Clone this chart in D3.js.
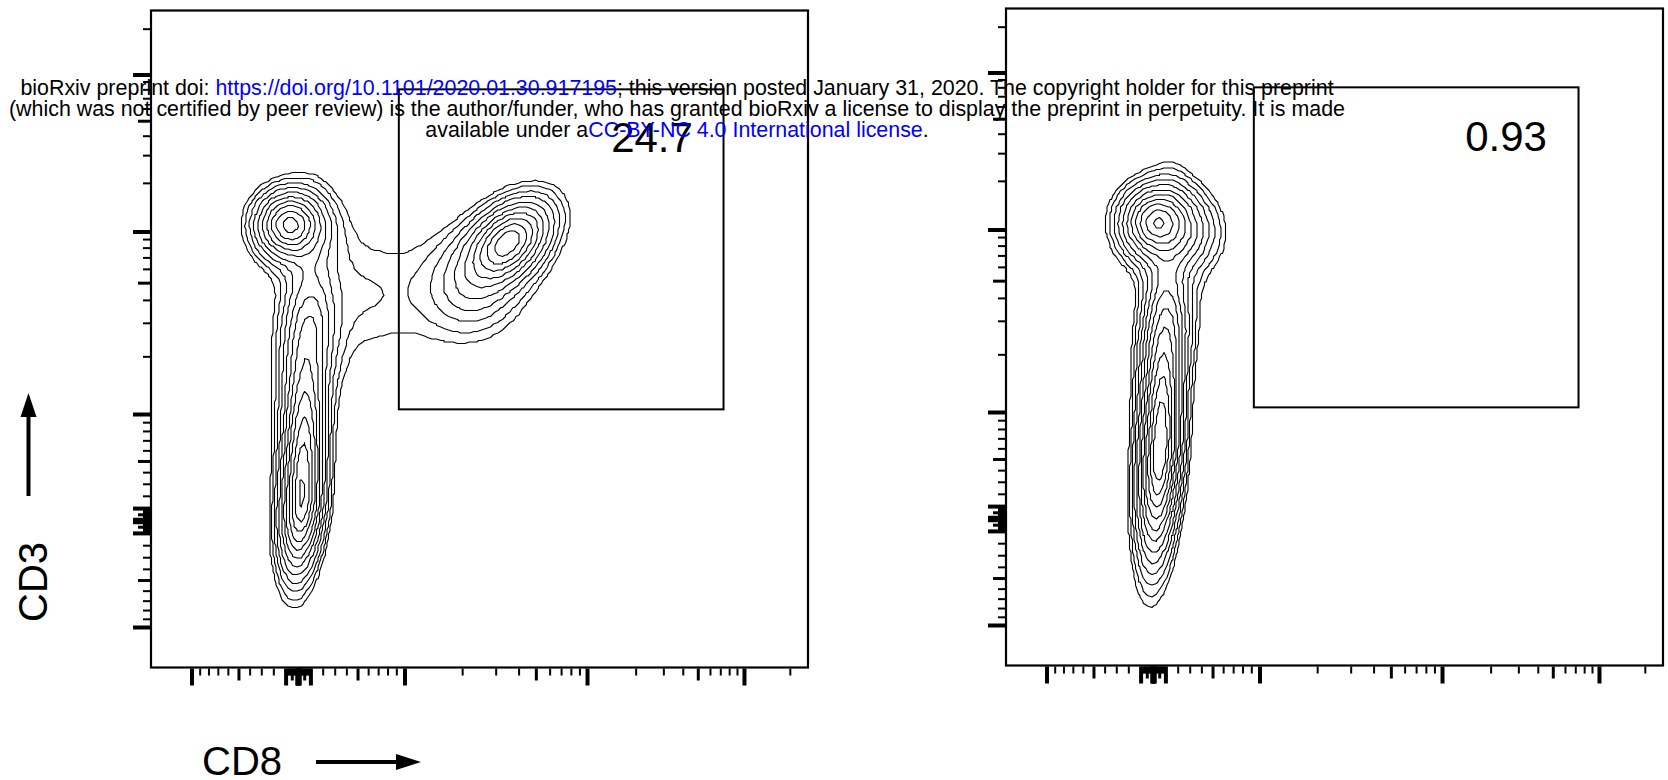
<!DOCTYPE html>
<html>
<head>
<meta charset="utf-8">
<script src="https://cdn.jsdelivr.net/npm/d3@7"></script>
<style>
  body { margin: 0; background: #fff; }
  svg { display: block; }
</style>
</head>
<body>
<svg id="chart" width="1668" height="780"></svg>
<script>
// ---- populations (CD8 / CD3 in fluorescence units, spread in display units) ----
// CD3+CD8-, CD3+CD8+, CD3+CD8+ tail, CD3- stem, CD3- upper, bridge
const leftCD8    = [-64, 3470, 2210, 32, 97, 620];
const leftCD3    = [10950, 8480, 4540, 185, 2740, 4250];
const leftSdX    = [0.0183, 0.0228, 0.043, 0.0107, 0.0213, 0.055];
const leftSdDown = [0.0183, 0.0228, 0.043, 0.0365, 0.0457, 0.07];
const leftSdUp   = [0.0183, 0.0228, 0.043, 0.0837, 0.0457, 0.07];
const leftRho    = [0, 0.45, 0, 0.25, 0.2, 0];
const leftPeak   = [0.36, 0.4, 0.038, 0.65, 0.06, 0.018];

// CD3+CD8-, its halo, CD3- stem, CD3- upper
const rightCD8    = [40, 260, 56, 121];
const rightCD3    = [11000, 9300, 586, 2700];
const rightSdX    = [0.0187, 0.0274, 0.0099, 0.02];
const rightSdDown = [0.0187, 0.0274, 0.0485, 0.04];
const rightSdUp   = [0.0187, 0.0274, 0.0761, 0.04];
const rightRho    = [0, 0, 0.3, 0.2];
const rightPeak   = [0.43, 0.05, 0.9, 0.05];

// gate (CD8+ CD3+) and its frequencies
const gateCD8 = [930, 73500];
const gateCD3 = [1060, 80000];
const gateFreq = ["24.7", "0.93"];

// contour levels (relative density)
const contourLevels = [0.6, 0.43, 0.31, 0.22, 0.16, 0.116, 0.084, 0.06, 0.043, 0.031, 0.022, 0.016];

// tick decades of the biexponential axes
const tickDecades = [1, 10, 100, 1000, 10000, 100000];
const tickMultiples = [1, 2, 3, 4, 5, 6, 7, 8, 9];

const headerLines = [
  [["bioRxiv preprint doi: ", "#000"], ["https://doi.org/10.1101/2020.01.30.917195", "#0000ff"], ["; this version posted January 31, 2020. The copyright holder for this preprint", "#000"]],
  [["(which was not certified by peer review) is the author/funder, who has granted bioRxiv a license to display the preprint in perpetuity. It is made", "#000"]],
  [["available under a", "#000"], ["CC-BY-NC 4.0 International license", "#0000ff"], [".", "#000"]]
];

const font = "'Liberation Sans', Arial, Helvetica, sans-serif";
const svg = d3.select("#chart");

// ---- biexponential display transform ----
const biexA = 109.95, biexDecade = 151 / 657, biexP = 3.8, biexZero = 147 / 657;
function fromDisplay(f) {
  const u = Math.abs(f - biexZero);
  const s = biexA * (Math.pow(10, u / biexDecade) - biexP * biexP * Math.pow(10, -u / (biexP * biexDecade)) + biexP * biexP - 1);
  return f < biexZero ? -s : s;
}
function toDisplay(v) {
  let lo = -0.5, hi = 1.5;
  for (let i = 0; i < 60; i++) {
    const m = (lo + hi) / 2;
    if (fromDisplay(m) < v) lo = m; else hi = m;
  }
  return (lo + hi) / 2;
}
function biexScale(range) {
  const lin = d3.scaleLinear().domain([0, 1]).range(range);
  const s = v => lin(toDisplay(v));
  s.display = lin;
  s.range = () => lin.range();
  s.domain = () => [fromDisplay(0), fromDisplay(1)];
  s.copy = () => biexScale(range);
  return s;
}

// tick classes
const lo = fromDisplay(0), hi = fromDisplay(1);
const inside = v => v >= lo && v <= hi;
const majorTicks = [0], mediumTicks = [], minorTicks = [];
tickDecades.forEach(d => tickMultiples.forEach(k => {
  [k * d, -k * d].forEach(v => {
    if (!inside(v)) return;
    if (k === 1) majorTicks.push(v);
    else if (k === 5) mediumTicks.push(v);
    else minorTicks.push(v);
  });
}));
const tickClasses = [
  { values: minorTicks, len: 7, width: 2 },
  { values: mediumTicks, len: 12, width: 3 },
  { values: majorTicks, len: 17, width: 4 }
];

const GRID = 160;
const snap = v => Math.round(v / 1.5) * 1.5;   // slight pixel jitter like the FlowJo export

function drawPanel(p) {
  const g = svg.append("g");
  const x = biexScale([p.left, p.left + p.size]);
  const y = biexScale([p.top + p.size, p.top]);

  // density on a display grid (gaussian core, exponential tails)
  const mx = p.cd8.map(toDisplay), my = p.cd3.map(toDisplay);
  const values = new Float64Array(GRID * GRID);
  for (let j = 0; j < GRID; j++) {
    const fy = (j + 0.5) / GRID;
    for (let i = 0; i < GRID; i++) {
      const fx = (i + 0.5) / GRID;
      let d = 0;
      for (let k = 0; k < mx.length; k++) {
        const sy = fy > my[k] ? p.sdUp[k] : p.sdDown[k];
        const dx = (fx - mx[k]) / p.sdX[k], dy = (fy - my[k]) / sy, r = p.rho[k];
        const z = (dx * dx - 2 * r * dx * dy + dy * dy) / (1 - r * r);
        d += p.peak[k] * Math.exp(1 - Math.sqrt(1 + z));
      }
      values[j * GRID + i] = d;
    }
  }

  const contours = d3.contours().size([GRID, GRID]).thresholds(contourLevels)(values);
  const proj = d3.geoTransform({
    point(px, py) { this.stream.point(snap(x.display(px / GRID)), snap(y.display(py / GRID))); }
  });
  g.append("g")
    .selectAll("path")
    .data(contours)
    .join("path")
    .attr("d", d3.geoPath(proj))
    .attr("fill", "none")
    .attr("stroke", "#000")
    .attr("stroke-width", 1.1)
    .attr("stroke-linejoin", "round");

  // frame
  g.append("rect")
    .attr("x", p.left).attr("y", p.top)
    .attr("width", p.size).attr("height", p.size)
    .attr("fill", "none").attr("stroke", "#000").attr("stroke-width", 2.2);

  // ticks
  tickClasses.forEach(tc => {
    g.append("g")
      .attr("transform", `translate(0,${p.top + p.size + 1})`)
      .attr("color", "#000")
      .call(d3.axisBottom(x).tickValues(tc.values).tickSize(tc.len).tickSizeOuter(0).tickFormat(() => ""))
      .call(a => a.select(".domain").remove())
      .call(a => a.selectAll("text").remove())
      .selectAll("line").attr("stroke-width", tc.width);
    g.append("g")
      .attr("transform", `translate(${p.left - 1},0)`)
      .attr("color", "#000")
      .call(d3.axisLeft(y).tickValues(tc.values).tickSize(tc.len).tickSizeOuter(0).tickFormat(() => ""))
      .call(a => a.select(".domain").remove())
      .call(a => a.selectAll("text").remove())
      .selectAll("line").attr("stroke-width", tc.width);
  });

  // gate
  g.append("rect")
    .attr("x", x(gateCD8[0])).attr("y", y(gateCD3[1]))
    .attr("width", x(gateCD8[1]) - x(gateCD8[0]))
    .attr("height", y(gateCD3[0]) - y(gateCD3[1]))
    .attr("fill", "none").attr("stroke", "#000").attr("stroke-width", 2);

  g.append("text")
    .attr("x", p.labelX).attr("y", p.labelY)
    .attr("text-anchor", "middle")
    .attr("font-family", font).attr("font-size", 42)
    .text(p.freq);
}

drawPanel({ left: 151, top: 10.5, size: 657, cd8: leftCD8, cd3: leftCD3, sdX: leftSdX, sdDown: leftSdDown, sdUp: leftSdUp,
  rho: leftRho, peak: leftPeak, freq: gateFreq[0], labelX: 652, labelY: 152 });
drawPanel({ left: 1006, top: 8.5, size: 657, cd8: rightCD8, cd3: rightCD3, sdX: rightSdX, sdDown: rightSdDown, sdUp: rightSdUp,
  rho: rightRho, peak: rightPeak, freq: gateFreq[1], labelX: 1506, labelY: 151 });

// axis titles with arrows
svg.append("text")
  .attr("x", 202).attr("y", 775)
  .attr("font-family", font).attr("font-size", 40)
  .text("CD8");
svg.append("line")
  .attr("x1", 316).attr("x2", 400).attr("y1", 762).attr("y2", 762)
  .attr("stroke", "#000").attr("stroke-width", 4);
svg.append("path")
  .attr("d", "M396,754 L421,762 L396,770 Z")
  .attr("fill", "#000");

svg.append("text")
  .attr("transform", "translate(47,622) rotate(-90)")
  .attr("font-family", font).attr("font-size", 40)
  .text("CD3");
svg.append("line")
  .attr("x1", 28.5).attr("x2", 28.5).attr("y1", 496).attr("y2", 412)
  .attr("stroke", "#000").attr("stroke-width", 4);
svg.append("path")
  .attr("d", "M20.5,417 L28.5,393 L36.5,417 Z")
  .attr("fill", "#000");

// preprint header over the figure
headerLines.forEach((line, i) => {
  const t = svg.append("text")
    .attr("x", 677).attr("y", 95 + i * 21)
    .attr("text-anchor", "middle")
    .attr("font-family", font).attr("font-size", 21.4);
  line.forEach(([s, c]) => t.append("tspan").attr("fill", c).text(s));
});
</script>
</body>
</html>
